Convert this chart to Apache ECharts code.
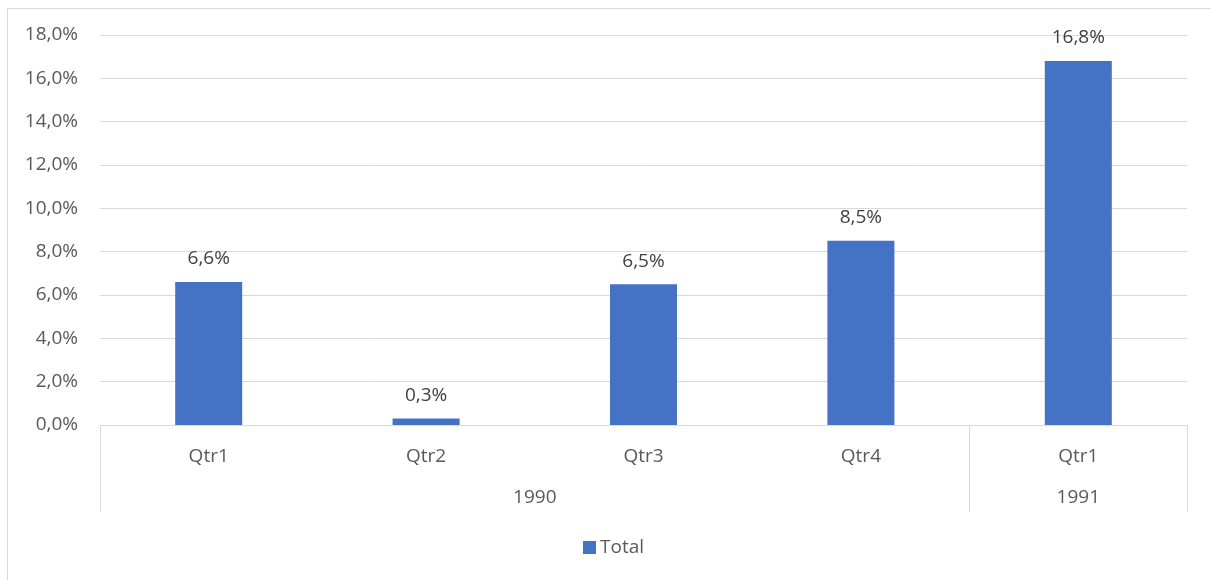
<!DOCTYPE html>
<html>
<head>
<meta charset="utf-8">
<script src="https://cdn.jsdelivr.net/npm/echarts@6/dist/echarts.min.js"></script>
<style>
html,body{margin:0;padding:0;background:#fff;}
#chart{width:1211px;height:580px;}
</style>
</head>
<body>
<div id="chart"></div>
<script>
const quarters = ['Qtr1', 'Qtr2', 'Qtr3', 'Qtr4', 'Qtr1'];
const totals = [6.6, 0.3, 6.5, 8.5, 16.8];
const years = ['1990', '1991'];
const yearSpans = [4, 1];
const yTicks = [0, 2, 4, 6, 8, 10, 12, 14, 16, 18];
const seriesName = 'Total';

const font = 'Open Sans';
const fs = 19;
const txt = '#595959';
const grey = '#d9d9d9';

const fmt = v => v.toFixed(1).replace('.', ',') + '%';

// group boundaries and centres for the year level
const bounds = [0];
const centres = [];
yearSpans.forEach((n, i) => { centres.push(bounds[i] + n / 2); bounds.push(bounds[i] + n); });

const chart = echarts.init(document.getElementById('chart'), null, {renderer: 'canvas'});
chart.setOption({
  animation: false,
  backgroundColor: '#fff',
  textStyle: {fontFamily: font},
  graphic: [{
    type: 'rect', silent: true, z: -1,
    shape: {x: 7.5, y: 8.5, width: 1260, height: 640},
    style: {fill: null, stroke: grey, lineWidth: 1}
  }],
  grid: {left: 100, right: 24, top: 35, bottom: 155, containLabel: false, outerBoundsMode: 'none'},
  legend: {
    top: 533, left: 578,
    icon: 'rect', itemWidth: 13, itemHeight: 13, itemGap: 6,
    textStyle: {fontFamily: font, fontSize: fs, color: txt, padding: [0, 0, 0, -1]},
    data: [seriesName]
  },
  xAxis: [{
    type: 'category',
    data: quarters,
    axisLine: {show: true, lineStyle: {color: grey, width: 1}},
    axisTick: {show: false},
    axisLabel: {fontFamily: font, fontSize: fs, color: txt, margin: 22.5, interval: 0}
  }, {
    type: 'value',
    position: 'bottom',
    offset: 87,
    min: 0,
    max: bounds[bounds.length - 1],
    splitLine: {show: false},
    axisLine: {show: false},
    axisTick: {show: true, inside: true, length: 87, customValues: bounds, lineStyle: {color: grey, width: 1}},
    axisLabel: {
      show: true, inside: true, margin: 4.5, customValues: centres,
      fontFamily: font, fontSize: fs, color: txt,
      formatter: v => { const i = centres.indexOf(v); return i >= 0 ? years[i] : ''; }
    }
  }],
  yAxis: {
    type: 'value',
    min: yTicks[0], max: yTicks[yTicks.length - 1], interval: 2,
    axisLine: {show: false},
    axisTick: {show: false},
    splitLine: {lineStyle: {color: grey, width: 1}},
    axisLabel: {fontFamily: font, fontSize: fs, color: txt, margin: 22, formatter: fmt}
  },
  series: [{
    name: seriesName,
    type: 'bar',
    data: totals,
    barWidth: 67,
    itemStyle: {color: '#4472C4'},
    label: {
      show: true, position: 'top', distance: 13.5,
      fontFamily: font, fontSize: fs, color: '#404040',
      formatter: p => fmt(p.value)
    }
  }]
});
</script>
</body>
</html>
